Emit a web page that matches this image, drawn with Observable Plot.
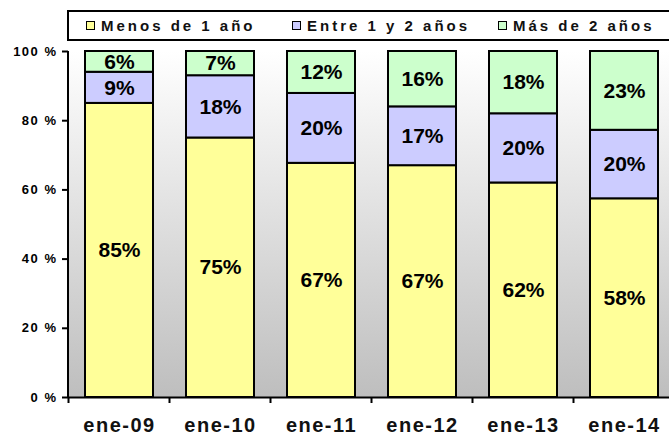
<!DOCTYPE html>
<html>
<head>
<meta charset="utf-8">
<script src="https://cdn.jsdelivr.net/npm/d3@7"></script>
<script src="https://cdn.jsdelivr.net/npm/@observablehq/plot@0.6"></script>
<style>
  body { margin: 0; overflow: hidden; background: #fff; font-family: Arial, "Liberation Sans", sans-serif; }
  #wrap { position: relative; width: 669px; height: 436px; overflow: hidden; }
  #legend { position: absolute; left: 67px; top: 10px; width: 640px; height: 27px; border: 2px solid #000; background: #fff; }
  .item { position: absolute; top: 0; height: 27px; display: flex; align-items: center; font-weight: bold; font-size: 15px; letter-spacing: 3px; color: #111; white-space: nowrap; }
  .sw { width: 7px; height: 7px; border: 1.5px solid #000; margin-right: 6px; }
  g[aria-label="y-axis tick label"] text { letter-spacing: 1.5px; }
  g[aria-label="x-axis tick label"] text { letter-spacing: 1.5px; }
  #gradsvg { position: absolute; width: 0; height: 0; }
</style>
</head>
<body>
<svg id="gradsvg" width="0" height="0">
  <defs>
    <linearGradient id="bggrad" x1="0" y1="0" x2="0" y2="1">
      <stop offset="0%" stop-color="#ffffff"></stop>
      <stop offset="100%" stop-color="#bebebe"></stop>
    </linearGradient>
  </defs>
</svg>
<div id="wrap">
  <div id="chart"></div>
  <div id="legend"></div>
</div>
<script>
const categories = ["ene-09", "ene-10", "ene-11", "ene-12", "ene-13", "ene-14"];
const seriesNames = ["Menos de 1 año", "Entre 1 y 2 años", "Más de 2 años"];
const menos = [85, 75, 67, 67, 62, 58];
const entre = [9, 18, 20, 17, 20, 20];
const mas = [6, 7, 12, 16, 18, 23];
const seriesColors = ["#FFFF99", "#CCCCFF", "#CCFFCC"];
const yTicks = [0, 20, 40, 60, 80, 100];

const seriesValues = [menos, entre, mas];
const data = [];
categories.forEach((c, i) => {
  seriesNames.forEach((s, j) => {
    data.push({cat: c, series: s, value: seriesValues[j][i]});
  });
});

// Plot-area background gradient
function decorations(index, scales, values, dims) {
  const {width, height, marginTop, marginBottom, marginLeft} = dims;
  const g = d3.create("svg:g");
  g.append("rect")
    .attr("x", marginLeft).attr("y", marginTop)
    .attr("width", width - marginLeft).attr("height", height - marginTop - marginBottom)
    .attr("fill", "url(#bggrad)");
  return g.node();
}
// Left axis line and x boundary ticks, derived from the x scale
function axisLines(index, scales, values, dims) {
  const {height, marginTop, marginBottom, marginLeft} = dims;
  const x = scales.x;
  const bw = typeof x.bandwidth === "function" ? x.bandwidth() : x.bandwidth;
  const g = d3.create("svg:g");
  const y0 = height - marginBottom;
  g.append("line").attr("x1", marginLeft).attr("x2", marginLeft)
    .attr("y1", marginTop).attr("y2", y0).attr("stroke", "#000").attr("stroke-width", 2);
  const xs = categories.map(c => x(c));
  const step = xs[1] - xs[0];
  const half = (step - bw) / 2;
  const bounds = [xs[0] - half, ...xs.map(v => v + bw + half)];
  bounds.forEach(b => {
    g.append("line").attr("x1", b).attr("x2", b).attr("y1", y0).attr("y2", y0 + 6)
      .attr("stroke", "#000").attr("stroke-width", 2);
  });
  return g.node();
}

const stackOpts = {offset: "normalize", x: "cat", y: "value", z: "series"};

const chart = Plot.plot({
  width: 669,
  height: 436,
  marginLeft: 68,
  marginRight: 0,
  marginTop: 51,
  marginBottom: 39,
  style: {fontFamily: "Arial, 'Liberation Sans', sans-serif", background: "transparent", overflow: "visible"},
  x: {domain: categories, range: [68, 675], paddingInner: 0.33, paddingOuter: 0.165, label: null},
  y: {domain: [0, 1], label: null},
  color: {domain: seriesNames, range: seriesColors},
  marks: [
    decorations,
    Plot.barY(data, Plot.stackY({...stackOpts, fill: "series", stroke: "#000", strokeWidth: 2})),
    Plot.text(data, Plot.stackY({...stackOpts, text: d => d.value + "%", fontSize: 21, fontWeight: "bold", fill: "#000"})),
    Plot.ruleY([0], {stroke: "#000", strokeWidth: 2}),
    axisLines,
    Plot.axisY({label: null, ticks: yTicks.map(v => v / 100), tickFormat: d => `${Math.round(d * 100)} %`, tickSize: 6, tickPadding: 5, fontSize: 13, fontWeight: "bold", stroke: "#000", strokeWidth: 2, fill: "#000"}),
    Plot.axisX({label: null, tickSize: 0, tickPadding: 20, fontSize: 20, fontWeight: "bold", fill: "#111"})
  ]
});
document.getElementById("chart").appendChild(chart);

const legend = document.getElementById("legend");
const legendLefts = [17, 223, 429];
seriesNames.forEach((s, i) => {
  const it = document.createElement("div");
  it.className = "item";
  it.style.left = legendLefts[i] + "px";
  const sw = document.createElement("span");
  sw.className = "sw";
  sw.style.background = seriesColors[i];
  const tx = document.createElement("span");
  tx.textContent = s;
  it.appendChild(sw);
  it.appendChild(tx);
  legend.appendChild(it);
});
</script>
</body>
</html>
